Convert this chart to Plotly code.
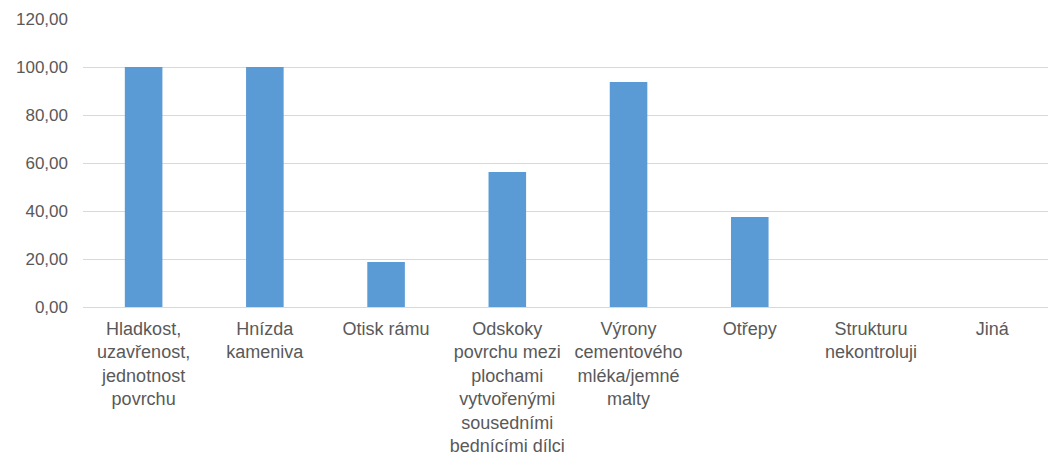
import plotly.graph_objects as go

categories = [
    "Hladkost,<br>uzavřenost,<br>jednotnost<br>povrchu",
    "Hnízda<br>kameniva",
    "Otisk rámu",
    "Odskoky<br>povrchu mezi<br>plochami<br>vytvořenými<br>sousedními<br>bednícími dílci",
    "Výrony<br>cementového<br>mléka/jemné<br>malty",
    "Otřepy",
    "Strukturu<br>nekontroluji",
    "Jiná",
]
values = [100.0, 100.0, 18.75, 56.25, 93.75, 37.5, 0.0, 0.0]
y_ticks = [0, 20, 40, 60, 80, 100, 120]

fig = go.Figure(
    go.Bar(
        x=list(range(len(categories))),
        y=values,
        marker=dict(color="#5b9bd5", line=dict(width=0)),
        width=0.31,
        hoverinfo="skip",
    )
)

fig.update_layout(
    width=1048,
    height=461,
    margin=dict(l=83, r=0, t=19, b=154),
    paper_bgcolor="white",
    plot_bgcolor="white",
    separators=", ",
    showlegend=False,
    font=dict(family="Liberation Sans", size=17, color="#595959"),
)

fig.update_xaxes(
    range=[-0.5, 7.46],
    tickmode="array",
    tickvals=list(range(len(categories))),
    ticktext=categories,
    tickfont=dict(size=18),
    showgrid=False,
    zeroline=False,
    showline=False,
    ticks="",
    tickangle=0,
    ticklabelstandoff=9,
)

fig.update_yaxes(
    range=[0, 120],
    tickmode="array",
    tickvals=y_ticks,
    tickformat=".2f",
    showgrid=True,
    gridcolor="#d9d9d9",
    gridwidth=1,
    zeroline=True,
    zerolinecolor="#d9d9d9",
    zerolinewidth=1,
    showline=False,
    ticks="",
    ticklabelstandoff=14,
)

fig.write_html("out.html")
